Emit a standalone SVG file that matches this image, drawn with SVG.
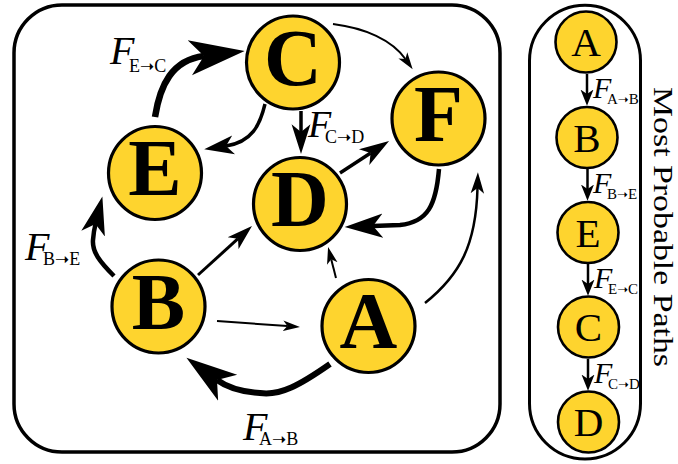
<svg xmlns="http://www.w3.org/2000/svg" width="678" height="464" viewBox="0 0 678 464">
  <style>
    .frame { fill: #ffffff; stroke: #000000; stroke-width: 3.5; }
    .big circle { fill: #fed42e; stroke: #000000; stroke-width: 3.2; }
    .big text { font-family: "Liberation Serif", "Times New Roman", serif; font-weight: bold; font-size: 80px; text-anchor: middle; fill: #000000; }
    .small circle { fill: #fed42e; stroke: #000000; stroke-width: 2.6; }
    .small text { font-family: "Liberation Serif", "Times New Roman", serif; font-size: 41px; text-anchor: middle; fill: #000000; }
    .edge { fill: none; stroke: #000000; stroke-linecap: butt; marker-end: url(#head); }
    .chain { fill: none; stroke: #000000; stroke-width: 2.5; marker-end: url(#headShort); }
    .fl { font-family: "Liberation Serif", "Times New Roman", serif; font-style: italic; fill: #000000; }
    .sub { font-family: "Liberation Serif", "DejaVu Serif", serif; fill: #000000; }
    .ar { font-family: "DejaVu Sans", sans-serif; }
    .title { font-family: "Liberation Serif", "Times New Roman", serif; font-size: 28px; fill: #000000; }
  </style>
  <defs>
    <marker id="head" viewBox="0 -3 9 6" refX="2.2" refY="0" markerWidth="9" markerHeight="6" markerUnits="strokeWidth" orient="auto">
      <path d="M8.5,0 L0,-2.7 L2.2,0 L0,2.7 Z" fill="#000000"/>
    </marker>
    <marker id="headShort" viewBox="0 -3 7 6" refX="1.8" refY="0" markerWidth="7" markerHeight="6" markerUnits="strokeWidth" orient="auto">
      <path d="M6.5,0 L0,-2.6 L1.8,0 L0,2.6 Z" fill="#000000"/>
    </marker>
  </defs>

  <!-- panel frames -->
  <rect class="frame" x="14" y="5" width="486" height="447" rx="48" ry="48"/>
  <rect class="frame" x="529.5" y="5.3" width="111" height="453.7" rx="55.5" ry="55.5" style="stroke-width:3"/>

  <!-- transition graph connectors -->
  <g id="connectors">
    <path class="edge" style="stroke-width:6.5" d="M155,117 C160,85 172,60 204,56"/>
    <path class="edge" style="stroke-width:3.5" d="M265,104 C260,125 252,142 226,146"/>
    <path class="edge" style="stroke-width:3.5" d="M301,111 L301,132"/>
    <path class="edge" style="stroke-width:2" d="M333,24 C365,28 392,40 405.4,59"/>
    <path class="edge" style="stroke-width:3.5" d="M340,173 L370.6,153"/>
    <path class="edge" style="stroke-width:4.5" d="M439,169 C436,205 428,222 400,225 L373,226"/>
    <path class="edge" style="stroke-width:2" d="M336,278 L331.2,259.2"/>
    <path class="edge" style="stroke-width:2.5" d="M425,303 C460,275 476,245 477.5,188"/>
    <path class="edge" style="stroke-width:6" d="M330,364 C300,385 280,396 260,393 C243,392 228,388 217,380"/>
    <path class="edge" style="stroke-width:3" d="M198,275 L238,238.7"/>
    <path class="edge" style="stroke-width:2" d="M217,321 L287.4,326.1"/>
    <path class="edge" style="stroke-width:4.5" d="M114,276 C100,262 92,252 93,240 C93.5,233 94.5,228 95.5,224"/>
  </g>

  <!-- transition graph nodes -->
  <g id="node-C" class="big"><circle cx="293" cy="62.5" r="46.5"/><text x="293" y="84.5">C</text></g>
  <g id="node-E" class="big"><circle cx="155" cy="173" r="46.5"/><text x="155" y="195">E</text></g>
  <g id="node-D" class="big"><circle cx="300" cy="204" r="46.5"/><text x="300" y="226">D</text></g>
  <g id="node-F" class="big"><circle cx="438.5" cy="118.5" r="46.5"/><text x="438.5" y="140.5">F</text></g>
  <g id="node-B" class="big"><circle cx="158.5" cy="306.5" r="46.5"/><text x="158.5" y="328.5">B</text></g>
  <g id="node-A" class="big"><circle cx="368.5" cy="326" r="46.5"/><text x="368.5" y="348">A</text></g>

  <!-- flux labels on the graph -->
  <g id="labels">
    <text class="fl" x="110" y="64" font-size="40">F</text>
    <text class="sub" x="129" y="72" font-size="18">E<tspan class="ar" font-size="17">➝</tspan>C</text>
    <text class="fl" x="308" y="137" font-size="38">F</text>
    <text class="sub" x="325" y="143" font-size="18">C<tspan class="ar" font-size="17">➝</tspan>D</text>
    <text class="fl" x="25" y="260" font-size="40">F</text>
    <text class="sub" x="43" y="264.5" font-size="18">B<tspan class="ar" font-size="17">➝</tspan>E</text>
    <text class="fl" x="243" y="440" font-size="40">F</text>
    <text class="sub" x="259" y="444.5" font-size="18">A<tspan class="ar" font-size="17">➝</tspan>B</text>
  </g>

  <!-- most probable path chain -->
  <g id="chain-connectors">
    <path class="chain" d="M587,74 L587,94"/>
    <path class="chain" d="M587.5,169 L587.5,189"/>
    <path class="chain" d="M588,264 L588,284"/>
    <path class="chain" d="M588,359 L588,379"/>
  </g>
  <g id="chain-A" class="small"><circle cx="586" cy="42" r="30.5"/><text x="586" y="56">A</text></g>
  <g id="chain-B" class="small"><circle cx="587" cy="137.5" r="30.5"/><text x="587" y="151.5">B</text></g>
  <g id="chain-E" class="small"><circle cx="588" cy="232.5" r="30.5"/><text x="588" y="246.5">E</text></g>
  <g id="chain-C" class="small"><circle cx="588.5" cy="327" r="30.5"/><text x="588.5" y="341">C</text></g>
  <g id="chain-D" class="small"><circle cx="588.5" cy="422" r="30.5"/><text x="588.5" y="436">D</text></g>

  <g id="chain-labels">
    <text class="fl" x="593" y="98" font-size="30">F</text>
    <text class="sub" x="607" y="104" font-size="15">A<tspan class="ar" font-size="13">➝</tspan>B</text>
    <text class="fl" x="593" y="193" font-size="30">F</text>
    <text class="sub" x="607" y="199" font-size="15">B<tspan class="ar" font-size="13">➝</tspan>E</text>
    <text class="fl" x="594" y="288" font-size="30">F</text>
    <text class="sub" x="608" y="294" font-size="15">E<tspan class="ar" font-size="13">➝</tspan>C</text>
    <text class="fl" x="594" y="383" font-size="30">F</text>
    <text class="sub" x="608" y="389" font-size="15">C<tspan class="ar" font-size="13">➝</tspan>D</text>
  </g>

  <text class="title" transform="translate(654,87) rotate(90)" x="0" y="0" textLength="280" lengthAdjust="spacingAndGlyphs">Most Probable Paths</text>
</svg>
